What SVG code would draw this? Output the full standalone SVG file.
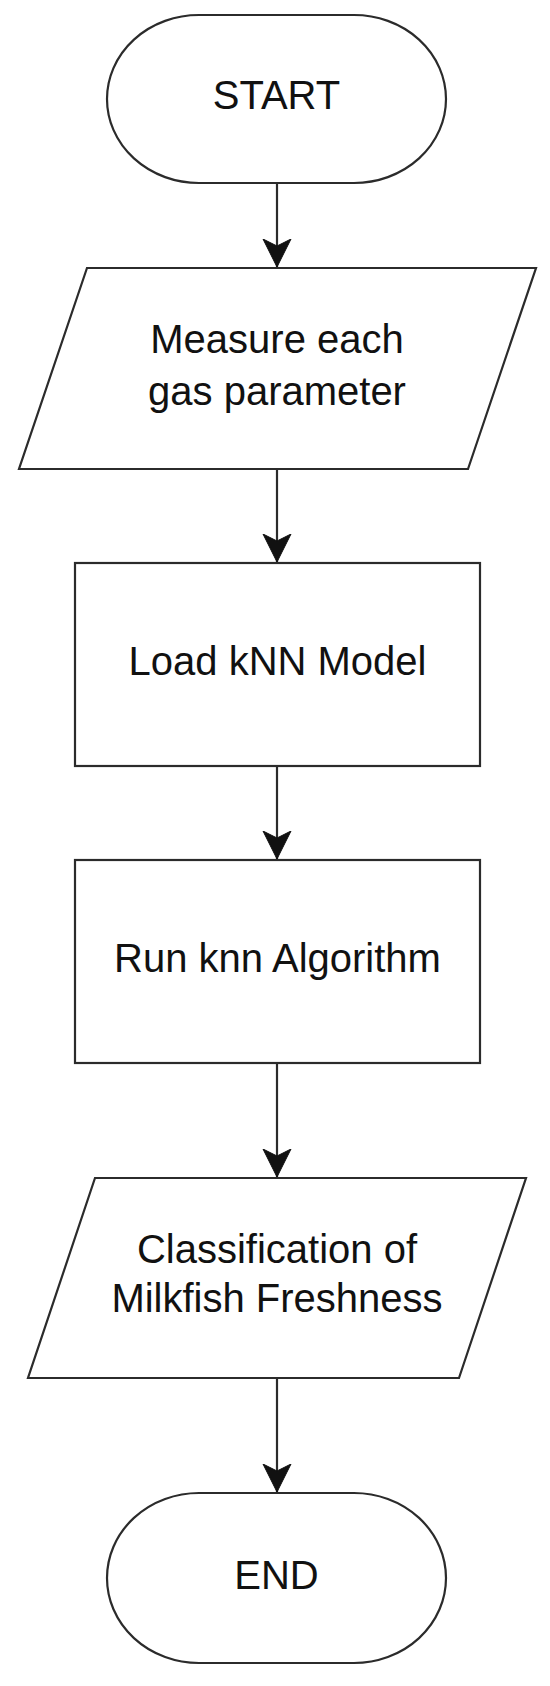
<svg xmlns="http://www.w3.org/2000/svg" width="550" height="1686" viewBox="0 0 550 1686">
  <style>
    .shape { fill: #ffffff; stroke: #2b2b2b; stroke-width: 2.2; }
    .edge { fill: none; stroke: #2b2b2b; stroke-width: 2.2; }
    .label { font-family: "Liberation Sans", Arial, sans-serif; font-size: 40px; fill: #111111; text-anchor: middle; }
  </style>
  <defs>
    <marker id="arrow" markerUnits="userSpaceOnUse" markerWidth="30" markerHeight="30" viewBox="0 0 30 30" refX="28" refY="15" orient="auto">
      <path d="M 28 15 L 0 1 L 7 15 L 0 29 Z" fill="#111111" stroke="#111111" stroke-width="1" stroke-linejoin="miter"/>
    </marker>
  </defs>
  <rect width="550" height="1686" fill="#ffffff"/>

  <g id="connectors">
    <line class="edge" x1="277" y1="183" x2="277" y2="267" marker-end="url(#arrow)"/>
    <line class="edge" x1="277" y1="469" x2="277" y2="562" marker-end="url(#arrow)"/>
    <line class="edge" x1="277" y1="766" x2="277" y2="859" marker-end="url(#arrow)"/>
    <line class="edge" x1="277" y1="1063" x2="277" y2="1177" marker-end="url(#arrow)"/>
    <line class="edge" x1="277" y1="1378" x2="277" y2="1492" marker-end="url(#arrow)"/>
  </g>

  <g id="start">
    <rect class="shape" x="107" y="15" width="339" height="168" rx="92" ry="84"/>
    <text class="label" x="276.5" y="109" font-size="39">START</text>
  </g>

  <g id="measure">
    <polygon class="shape" points="87,268 536,268 468,469 19,469"/>
    <text class="label" x="277" y="353" font-size="38.5">Measure each</text>
    <text class="label" x="277" y="405" font-size="38.5">gas parameter</text>
  </g>

  <g id="load-model">
    <rect class="shape" x="75" y="563" width="405" height="203"/>
    <text class="label" x="277.5" y="675">Load kNN Model</text>
  </g>

  <g id="run-knn">
    <rect class="shape" x="75" y="860" width="405" height="203"/>
    <text class="label" x="277.5" y="972">Run knn Algorithm</text>
  </g>

  <g id="classification">
    <polygon class="shape" points="95,1178 526,1178 459,1378 28,1378"/>
    <text class="label" x="277" y="1263">Classification of</text>
    <text class="label" x="277" y="1312">Milkfish Freshness</text>
  </g>

  <g id="end">
    <rect class="shape" x="107" y="1493" width="339" height="170" rx="92" ry="85"/>
    <text class="label" x="276.5" y="1589">END</text>
  </g>
</svg>
